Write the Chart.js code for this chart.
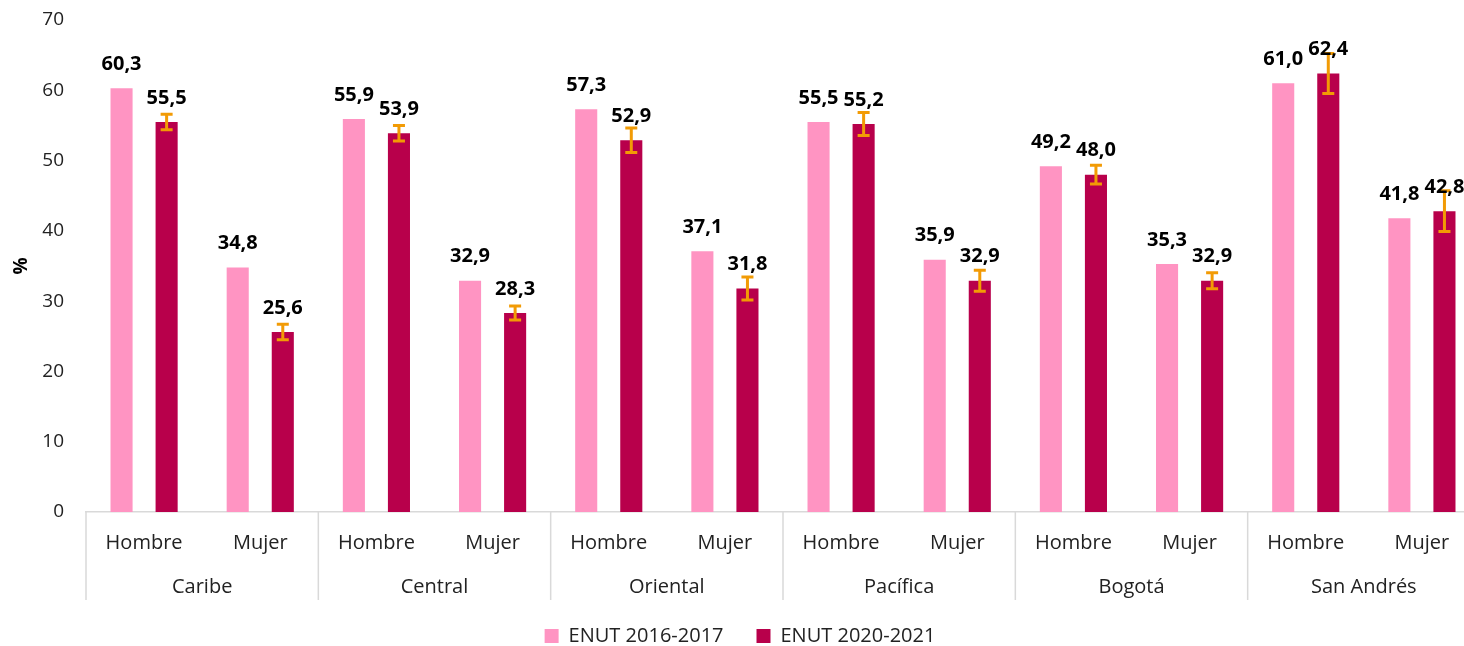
<!DOCTYPE html>
<html>
<head>
<meta charset="utf-8">
<script src="https://cdn.jsdelivr.net/npm/chart.js@4/dist/chart.umd.min.js"></script>
<style>
  body { margin: 0; background: #fff; overflow: hidden; }
  #wrap { width: 1480px; height: 646px; }
</style>
</head>
<body>
<div id="wrap"><canvas id="myChart"></canvas></div>
<script>
  // datos
  const sexos = ['Hombre', 'Mujer', 'Hombre', 'Mujer', 'Hombre', 'Mujer', 'Hombre', 'Mujer', 'Hombre', 'Mujer', 'Hombre', 'Mujer'];
  const regiones = ['Caribe', 'Central', 'Oriental', 'Pacífica', 'Bogotá', 'San Andrés'];
  const enut2016 = [60.3, 34.8, 55.9, 32.9, 57.3, 37.1, 55.5, 35.9, 49.2, 35.3, 61.0, 41.8];
  const enut2020 = [55.5, 25.6, 53.9, 28.3, 52.9, 31.8, 55.2, 32.9, 48.0, 32.9, 62.4, 42.8];
  const error2020 = [1.1, 1.1, 1.1, 1.0, 1.75, 1.65, 1.65, 1.5, 1.35, 1.15, 2.85, 2.9];
  const yTicks = [0, 10, 20, 30, 40, 50, 60, 70];

  const fuente = '"Open Sans", "Noto Sans", sans-serif';
  const fmt = v => v.toFixed(1).replace('.', ',');

  // barras de error + etiquetas + separadores de region
  const extras = {
    id: 'extras',
    afterDatasetsDraw(chart) {
      const ctx = chart.ctx;
      const y = chart.scales.y;
      const x = chart.scales.x;
      const area = chart.chartArea;

      // barras de error (solo 2020-2021)
      const meta2 = chart.getDatasetMeta(1);
      ctx.save();
      ctx.strokeStyle = '#F29B05';
      ctx.lineWidth = 3;
      meta2.data.forEach((bar, i) => {
        const v = enut2020[i], e = error2020[i];
        const yTop = y.getPixelForValue(v + e);
        const yBot = y.getPixelForValue(v - e);
        ctx.beginPath();
        ctx.moveTo(bar.x, yTop); ctx.lineTo(bar.x, yBot);
        ctx.moveTo(bar.x - 6, yTop); ctx.lineTo(bar.x + 6, yTop);
        ctx.moveTo(bar.x - 6, yBot); ctx.lineTo(bar.x + 6, yBot);
        ctx.stroke();
      });
      ctx.restore();

      // etiquetas de datos
      ctx.save();
      ctx.fillStyle = '#000';
      ctx.font = 'bold 20px ' + fuente;
      ctx.textAlign = 'center';
      ctx.textBaseline = 'middle';
      [enut2016, enut2020].forEach((serie, d) => {
        chart.getDatasetMeta(d).data.forEach((bar, i) => {
          ctx.fillText(fmt(serie[i]), bar.x, bar.y - 24);
        });
      });
      ctx.restore();

      // separadores y nombres de region
      const paso = x.getPixelForValue(1) - x.getPixelForValue(0);
      ctx.save();
      ctx.strokeStyle = '#d9d9d9';
      ctx.lineWidth = 1.5;
      ctx.fillStyle = '#222';
      ctx.font = '20px ' + fuente;
      ctx.textAlign = 'center';
      ctx.textBaseline = 'middle';
      for (let r = 0; r <= regiones.length; r++) {
        const bx = x.getPixelForValue(r * 2) - paso / 2;
        ctx.beginPath();
        ctx.moveTo(bx, area.bottom);
        ctx.lineTo(bx, area.bottom + 88);
        ctx.stroke();
        if (r < regiones.length) {
          ctx.fillText(regiones[r], bx + paso, area.bottom + 75);
        }
      }
      ctx.restore();
    }
  };

  const ctx = document.getElementById('myChart');

  new Chart(ctx, {
    type: 'bar',
    data: {
      labels: sexos,
      datasets: [
        {
          label: 'ENUT 2016-2017',
          data: enut2016,
          backgroundColor: '#FF94C2',
          barPercentage: 0.49,
          categoryPercentage: 0.776
        },
        {
          label: 'ENUT 2020-2021',
          data: enut2020,
          backgroundColor: '#B8004B',
          barPercentage: 0.49,
          categoryPercentage: 0.776
        }
      ]
    },
    options: {
      responsive: true,
      maintainAspectRatio: false,
      animation: false,
      layout: { padding: { top: 20, left: 0, right: 0, bottom: -10 } },
      plugins: {
        tooltip: { enabled: false },
        legend: {
          position: 'bottom',
          labels: {
            boxWidth: 14,
            boxHeight: 14,
            padding: 33,
            color: '#222',
            font: { family: fuente, size: 20 }
          }
        }
      },
      scales: {
        x: {
          grid: { display: false },
          border: { display: true, color: '#d9d9d9', width: 1.5 },
          ticks: { color: '#222', font: { family: fuente, size: 20 }, padding: 11, maxRotation: 0, autoSkip: false },
          afterFit(scale) { scale.height = 81; }
        },
        y: {
          min: 0,
          max: 70,
          afterBuildTicks(scale) { scale.ticks = yTicks.map(v => ({ value: v })); },
          grid: { display: false },
          border: { display: false },
          ticks: { color: '#222', font: { family: fuente, size: 19 }, padding: 14 },
          title: {
            display: true,
            text: '%',
            color: '#000',
            font: { family: fuente, size: 19, weight: 'bold' },
            padding: { top: 10, bottom: 0 }
          },
          afterFit(scale) {
            scale.width = 86;
            scale.paddingTop = 0;
            scale.paddingBottom = 0;
          }
        }
      }
    },
    plugins: [extras]
  });
</script>
</body>
</html>
